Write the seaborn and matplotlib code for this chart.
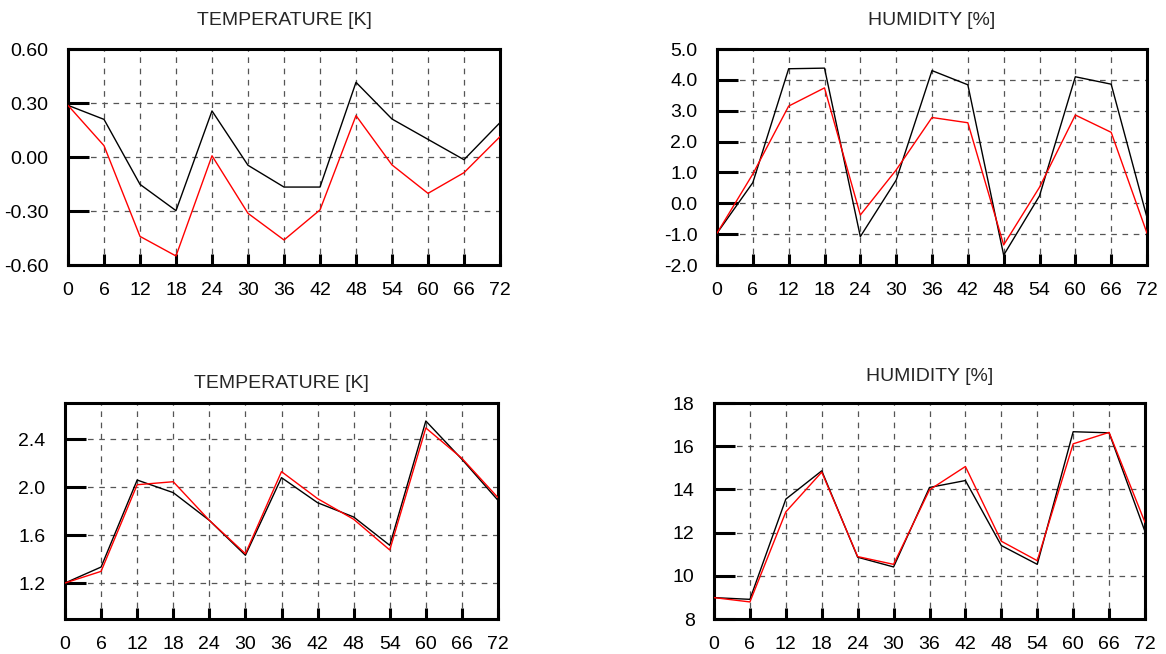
import numpy as np
import pandas as pd
import matplotlib
matplotlib.use("Agg")
import matplotlib.pyplot as plt
import seaborn as sns

# Forecast lead time (hours)
lead_hours = [0, 6, 12, 18, 24, 30, 36, 42, 48, 54, 60, 66, 72]

# Bias scores
temp_bias_ctrl = [0.287, 0.209, -0.152, -0.298, 0.256, -0.046, -0.167, -0.167, 0.415, 0.211, 0.098, -0.015, 0.191]
temp_bias_exp = [0.287, 0.063, -0.441, -0.550, 0.007, -0.313, -0.461, -0.294, 0.230, -0.044, -0.202, -0.087, 0.113]
hum_bias_ctrl = [-0.97, 0.67, 4.36, 4.38, -1.08, 0.75, 4.30, 3.84, -1.68, 0.24, 4.10, 3.86, -0.46]
hum_bias_exp = [-0.97, 0.95, 3.15, 3.74, -0.38, 1.08, 2.78, 2.61, -1.35, 0.52, 2.86, 2.30, -0.97]

# RMSE scores
temp_rmse_ctrl = [1.200, 1.333, 2.058, 1.953, 1.722, 1.431, 2.078, 1.869, 1.750, 1.514, 2.550, 2.231, 1.889]
temp_rmse_exp = [1.200, 1.297, 2.019, 2.044, 1.722, 1.444, 2.128, 1.903, 1.731, 1.475, 2.492, 2.239, 1.911]
hum_rmse_ctrl = [8.99, 8.91, 13.55, 14.86, 10.86, 10.41, 14.09, 14.41, 11.40, 10.53, 16.67, 16.62, 12.05]
hum_rmse_exp = [8.99, 8.79, 12.96, 14.80, 10.89, 10.53, 13.98, 15.06, 11.60, 10.70, 16.11, 16.64, 12.47]

titles = ["TEMPERATURE [K]", "HUMIDITY [%]", "TEMPERATURE [K]", "HUMIDITY [%]"]

sns.set_style("white")
plt.rcParams["font.family"] = ["Liberation Sans", "DejaVu Sans"]
plt.rcParams["axes.unicode_minus"] = False

fig = plt.figure(figsize=(11.66, 6.54), dpi=100)

panels = [
    dict(rect=[68 / 1166, 389 / 654, 432 / 1166, 216 / 654], ctrl=temp_bias_ctrl, exp=temp_bias_exp,
         ylim=(-0.6, 0.6), yticks=[-0.6, -0.3, 0.0, 0.3, 0.6], fmt="{:.2f}", pad=17),
    dict(rect=[717 / 1166, 389 / 654, 430 / 1166, 216 / 654], ctrl=hum_bias_ctrl, exp=hum_bias_exp,
         ylim=(-2.0, 5.0), yticks=[-2, -1, 0, 1, 2, 3, 4, 5], fmt="{:.1f}", pad=17),
    dict(rect=[65 / 1166, 35 / 654, 433 / 1166, 216 / 654], ctrl=temp_rmse_ctrl, exp=temp_rmse_exp,
         ylim=(0.9, 2.7), yticks=[1.2, 1.6, 2.0, 2.4], fmt="{:.1f}", pad=11),
    dict(rect=[714 / 1166, 35 / 654, 431 / 1166, 216 / 654], ctrl=hum_rmse_ctrl, exp=hum_rmse_exp,
         ylim=(8, 18), yticks=[8, 10, 12, 14, 16, 18], fmt="{:.0f}", pad=16),
]

for title, p in zip(titles, panels):
    ax = fig.add_axes(p["rect"])
    df = pd.DataFrame({
        "lead": lead_hours * 2,
        "value": p["ctrl"] + p["exp"],
        "run": ["ctrl"] * len(lead_hours) + ["exp"] * len(lead_hours),
    })
    sns.lineplot(data=df, x="lead", y="value", hue="run",
                 palette={"ctrl": "black", "exp": "#ff0000"},
                 hue_order=["ctrl", "exp"], linewidth=1.0, legend=False, ax=ax, zorder=3)
    ax.set_xlim(0, 72)
    ax.set_ylim(*p["ylim"])
    ax.set_xticks(lead_hours)
    ax.set_xticklabels([str(h) for h in lead_hours])
    ax.set_yticks(p["yticks"])
    ax.set_yticklabels([p["fmt"].format(v) for v in p["yticks"]])
    ax.set_xlabel("")
    ax.set_ylabel("")
    ax.set_title(title, fontsize=14, pad=p["pad"])
    ax.grid(True, color="#555555", linestyle=(0, (4.5, 4.5)), linewidth=0.9, zorder=1)
    for s in ax.spines.values():
        s.set_visible(True)
        s.set_color("black")
        s.set_linewidth(2.2)
    ax.tick_params(axis="y", direction="in", length=15, width=2.2, pad=14,
                   labelsize=14, left=True, right=False, colors="black")
    ax.tick_params(axis="x", direction="in", length=8, width=2.2, pad=12,
                   labelsize=14, bottom=True, top=False, colors="black")

fig.savefig("out.png", dpi=100)
